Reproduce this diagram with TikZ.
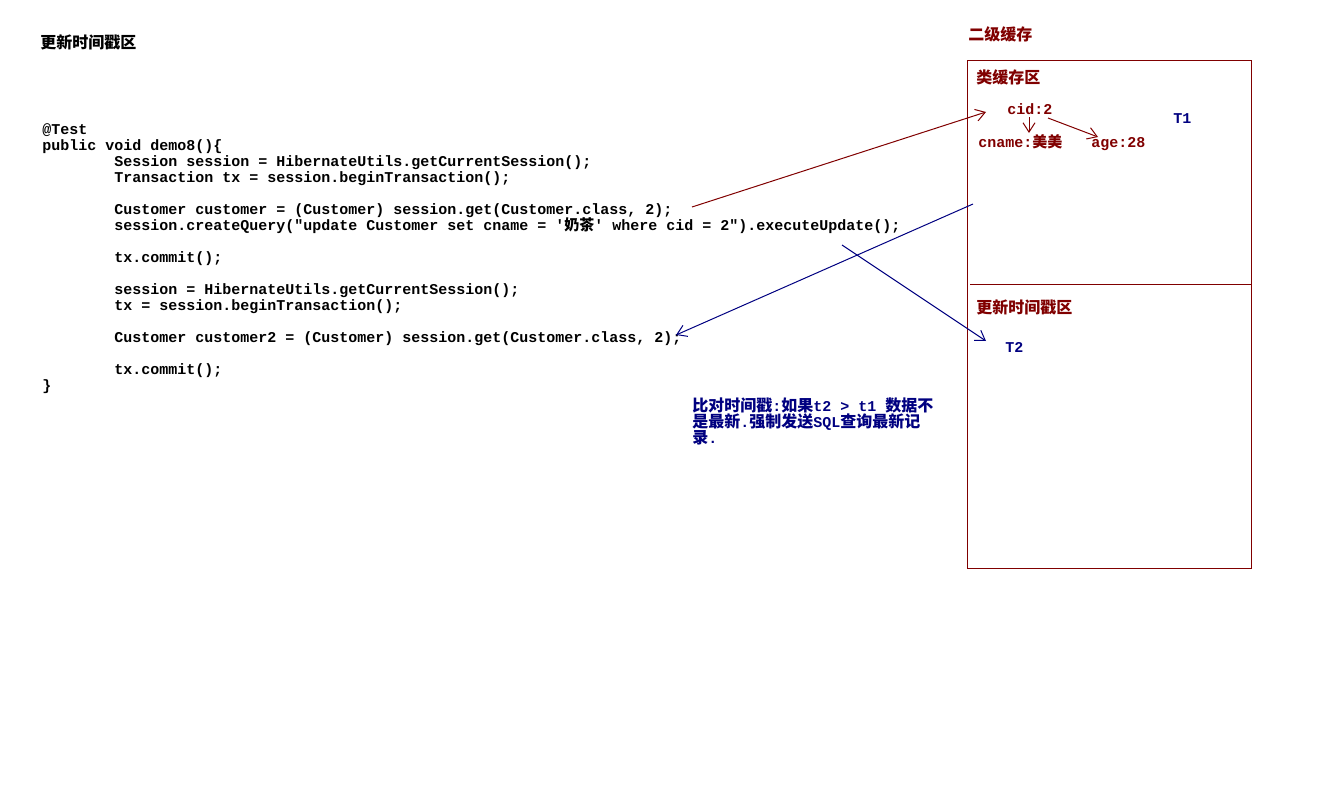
\documentclass[tikz,border=0pt]{standalone}
\usepackage{fontspec}
\usetikzlibrary{arrows.meta}
\newfontfamily\codefont{Liberation Mono}
\newfontfamily\cjk{Noto Sans CJK SC}
\definecolor{cacheRed}{RGB}{128,0,0}
\definecolor{noteBlue}{RGB}{0,0,128}
\newcommand{\lat}[1]{{\codefont\bfseries\fontsize{11.25}{12}\selectfont #1}}
\tikzset{
  code/.style={anchor=base west, inner sep=0pt, font=\codefont\bfseries\fontsize{11.25}{12}\selectfont},
  label/.style={anchor=base west, inner sep=0pt, font=\cjk\bfseries\fontsize{12}{14}\selectfont},
  redtxt/.style={text=cacheRed},
  bluetxt/.style={text=noteBlue},
  barb/.style={-{Straight Barb[length=7pt,width=9pt]}, line width=0.75pt},
}
\begin{document}
\begin{tikzpicture}[x=0.75pt,y=-0.75pt]
\useasboundingbox (0,0) rectangle (1317,810);

% heading
\node[label] (title) at (40,48) {更新时间戳区};

% Java test method
\node[code] (c1)  at (42,134) {@Test};
\node[code] (c2)  at (42,150) {public void demo8()\{};
\node[code] (c3)  at (114,166) {Session session = HibernateUtils.getCurrentSession();};
\node[code] (c4)  at (114,182) {Transaction tx = session.beginTransaction();};
\node[code] (c6)  at (114,214) {Customer customer = (Customer) session.get(Customer.class, 2);};
\node[code] (c7)  at (114,230) {session.createQuery("update Customer set cname = '{\cjk\bfseries 奶茶}' where cid = 2").executeUpdate();};
\node[code] (c9)  at (114,262) {tx.commit();};
\node[code] (c11) at (114,294) {session = HibernateUtils.getCurrentSession();};
\node[code] (c12) at (114,310) {tx = session.beginTransaction();};
\node[code] (c14) at (114,342) {Customer customer2 = (Customer) session.get(Customer.class, 2);};
\node[code] (c16) at (114,374) {tx.commit();};
\node[code] (c17) at (42,390) {\}};

% second-level cache
\node[label, redtxt] (l2) at (968,40) {二级缓存};
\draw[cacheRed, line width=0.75pt] (967,60) rectangle (1251,568);
\coordinate (divL) at (970,284);
\coordinate (divR) at (1251,284);
\draw[cacheRed, line width=0.75pt] (divL) -- (divR);

\node[label, redtxt] (classArea) at (976,83) {类缓存区};
\node[code, redtxt] (cid) at (1007,114) {cid:2};
\node[code, redtxt] (cname) at (978,147) {cname:{\cjk\bfseries 美美}};
\node[code, redtxt] (age) at (1091,147) {age:28};
\node[code, bluetxt] (t1) at (1173,123) {T1};

\node[label, redtxt] (tsArea) at (976,313) {更新时间戳区};
\node[code, bluetxt] (t2) at (1005,352) {T2};

% note on comparing timestamps
\node[label, bluetxt] (n1) at (692,411) {比对时间戳\lat{:}如果\lat{t2 > t1 }数据不};
\node[label, bluetxt] (n2) at (692,427) {是最新\lat{.}强制发送\lat{SQL}查询最新记};
\node[label, bluetxt] (n3) at (692,443) {录\lat{.}};

% connectors
\coordinate (cidDown) at (1029,117);
\coordinate (cnameTop) at (1029,133);
\coordinate (cidRight) at (1048,118);
\coordinate (ageTop) at (1098,137);
\draw[barb, cacheRed] (cidDown) -- (cnameTop);
\draw[barb, cacheRed] (cidRight) -- (ageTop);

\coordinate (getEnd) at (692,207);
\coordinate (cidIn) at (986,112);
\draw[barb, cacheRed] (getEnd) -- (cidIn);

\coordinate (cacheOut) at (973,204);
\coordinate (get2End) at (676,335);
\draw[barb, noteBlue] (cacheOut) -- (get2End);

\coordinate (updEnd) at (842,245);
\coordinate (tsIn) at (986,341);
\draw[barb, noteBlue] (updEnd) -- (tsIn);
\end{tikzpicture}
\end{document}
